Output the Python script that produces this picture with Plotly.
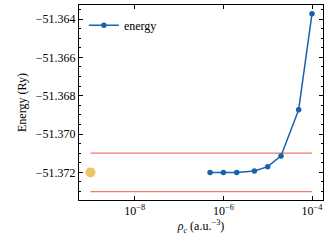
import plotly.graph_objects as go

rho = [5e-7, 1e-6, 2e-6, 5e-6, 1e-5, 2e-5, 5e-5, 1e-4]
energy = [-51.37200, -51.37200, -51.37200, -51.37193, -51.37170, -51.37114, -51.36873, -51.36372]
ref_x = [1e-9]
ref_y = [-51.372]
band_x = [1e-9, 1e-4]
band_upper = [-51.371, -51.371]
band_lower = [-51.373, -51.373]

ytick_vals = [-51.364, -51.366, -51.368, -51.370, -51.372]
ytick_text = ["−51.364", "−51.366", "−51.368", "−51.370", "−51.372"]
xtick_vals = [1e-8, 1e-6, 1e-4]
xtick_text = ["10<sup>−8</sup>", "10<sup>−6</sup>", "10<sup>−4</sup>"]

font = "'Times New Roman', 'Liberation Serif', 'DejaVu Serif', serif"
blue = "#1a62aa"
red = "#f07c68"
gold = "#ecc46c"

fig = go.Figure()
fig.add_trace(go.Scatter(x=band_x, y=band_upper, mode="lines",
                         line=dict(color=red, width=1.3), showlegend=False, hoverinfo="skip"))
fig.add_trace(go.Scatter(x=band_x, y=band_lower, mode="lines",
                         line=dict(color=red, width=1.3), showlegend=False, hoverinfo="skip"))
fig.add_trace(go.Scatter(x=ref_x, y=ref_y, mode="markers",
                         marker=dict(color=gold, size=10), showlegend=False))
fig.add_trace(go.Scatter(x=rho, y=energy, mode="lines+markers", name="energy",
                         line=dict(color=blue, width=1.5),
                         marker=dict(color=blue, size=5.5)))

fig.update_layout(
    width=331, height=243,
    margin=dict(l=79, r=8, t=5, b=43, autoexpand=False),
    paper_bgcolor="white", plot_bgcolor="white",
    font=dict(family=font, size=12, color="black"),
    legend=dict(x=0.02, y=0.97, xanchor="left", yanchor="top",
                bgcolor="rgba(0,0,0,0)", font=dict(size=12, family=font)),
)
fig.update_xaxes(
    type="log", range=[-9.258, -3.752], autorange=False, automargin=False,
    tickvals=xtick_vals, ticktext=xtick_text,
    tickfont=dict(size=12, family=font),
    ticks="inside", ticklen=4, tickcolor="black", tickwidth=0.8,
    showline=True, linecolor="black", linewidth=1, mirror="allticks",
    showgrid=False, zeroline=False,
    title=dict(text="<i>ρ</i><sub><i>c</i></sub> (a.u.<sup>−3</sup>)", standoff=4,
               font=dict(size=12, family=font)),
)
fig.update_yaxes(
    range=[-51.37344, -51.36327], autorange=False, automargin=False,
    tickvals=ytick_vals, ticktext=ytick_text,
    tickfont=dict(size=12, family=font),
    ticks="inside", ticklen=4, tickcolor="black", tickwidth=0.8,
    minor=dict(ticks="inside", ticklen=2, dtick=0.0005, tickcolor="black", tickwidth=0.6, showgrid=False),
    showline=True, linecolor="black", linewidth=1, mirror="allticks",
    showgrid=False, zeroline=False,
    title=dict(text="Energy (Ry)", standoff=6, font=dict(size=12, family=font)),
)

fig.write_html("out.html", config={"displayModeBar": False},
               post_script="document.body.style.margin='0';document.body.style.overflow='hidden';")
